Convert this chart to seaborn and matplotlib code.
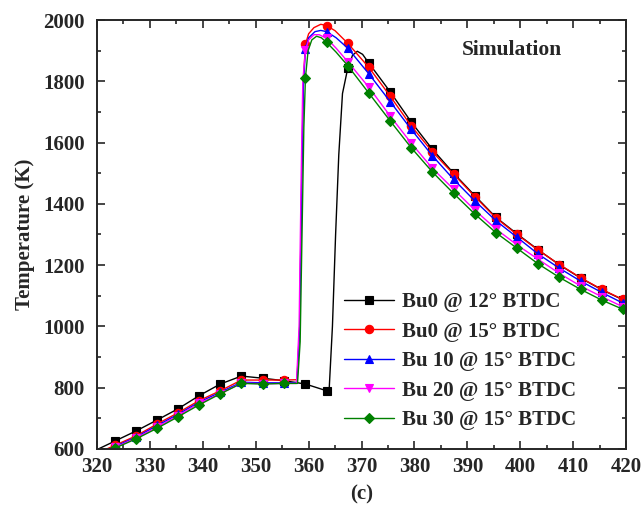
import numpy as np
import pandas as pd
import seaborn as sns
import matplotlib.pyplot as plt
from matplotlib.ticker import MultipleLocator

# Crank angle where markers are drawn (same for every run)
marker_ca = [323.4, 327.4, 331.4, 335.3, 339.3, 343.3, 347.3, 351.3, 355.3, 359.4,
             363.4, 367.4, 371.4, 375.4, 379.4, 383.4, 387.4, 391.4, 395.4, 399.4,
             403.4, 407.4, 411.4, 415.4, 419.4]

# Temperature at the marker positions
t_bu0_12 = [626, 659, 695, 731, 774, 812, 838, 831, 823, 812,
            790, 1843, 1859, 1766, 1667, 1578, 1500, 1427, 1356, 1302,
            1250, 1201, 1158, 1120, 1087]
t_bu0_15 = [612, 643, 682, 718, 758, 790, 825, 825, 825, 1921,
            1982, 1924, 1845, 1752, 1654, 1570, 1497, 1424, 1354, 1300,
            1249, 1202, 1159, 1121, 1088]
t_bu10_15 = [608, 639, 677, 713, 753, 785, 818, 816, 816, 1905,
             1962, 1908, 1824, 1734, 1643, 1557, 1480, 1410, 1345, 1291,
             1236, 1190, 1148, 1111, 1076]
t_bu20_15 = [605, 636, 672, 709, 749, 781, 815, 813, 814, 1902,
             1940, 1864, 1780, 1687, 1598, 1516, 1448, 1380, 1318, 1266,
             1219, 1173, 1132, 1097, 1064]
t_bu30_15 = [603, 633, 668, 705, 744, 780, 814, 812, 814, 1812,
             1927, 1851, 1761, 1671, 1583, 1504, 1434, 1367, 1306, 1255,
             1204, 1160, 1121, 1086, 1056]

# Extra curve points (start of the window, ignition jump, peak)
x_bu0_12 = [320.0, 363.9, 364.5, 365.1, 365.7, 366.4, 368.3, 369.2, 370.2, 420.0]
y_bu0_12 = [598, 800, 1000, 1300, 1560, 1760, 1885, 1898, 1888, 1083]
x_bu0_15 = [320.0, 357.8, 358.3, 358.7, 359.0, 360.0, 361.0, 362.3, 365.0, 420.0]
y_bu0_15 = [586, 826, 1000, 1500, 1800, 1955, 1975, 1986, 1965, 1084]
x_bu10_15 = [320.0, 357.8, 358.3, 358.7, 359.0, 360.0, 361.2, 362.3, 365.2, 420.0]
y_bu10_15 = [582, 817, 990, 1480, 1780, 1942, 1962, 1966, 1942, 1072]
x_bu20_15 = [320.0, 357.7, 358.2, 358.6, 358.9, 360.0, 361.0, 362.0, 365.2, 420.0]
y_bu20_15 = [580, 814, 1000, 1500, 1800, 1935, 1952, 1952, 1908, 1060]
x_bu30_15 = [320.0, 357.9, 358.4, 358.8, 359.1, 359.9, 360.6, 361.5, 362.4, 365.2, 420.0]
y_bu30_15 = [578, 814, 950, 1350, 1650, 1900, 1935, 1947, 1942, 1895, 1052]

labels = ["Bu0 @ 12° BTDC", "Bu0 @ 15° BTDC", "Bu 10 @ 15° BTDC",
          "Bu 20 @ 15° BTDC", "Bu 30 @ 15° BTDC"]
colors = ["black", "red", "blue", "magenta", "green"]
markers = ["s", "o", "^", "v", "D"]

marker_vals = [t_bu0_12, t_bu0_15, t_bu10_15, t_bu20_15, t_bu30_15]
extra_x = [x_bu0_12, x_bu0_15, x_bu10_15, x_bu20_15, x_bu30_15]
extra_y = [y_bu0_12, y_bu0_15, y_bu10_15, y_bu20_15, y_bu30_15]

sns.set_style("ticks")
plt.rcParams["font.family"] = ["Liberation Serif", "DejaVu Serif"]
plt.rcParams["font.weight"] = "bold"

fig = plt.figure(figsize=(6.43, 5.09), dpi=100)
ax = fig.add_axes([0.1509, 0.1179, 0.8227, 0.8428])

for lab, col, mk, tv, ex, ey in zip(labels, colors, markers, marker_vals, extra_x, extra_y):
    df = pd.DataFrame({"ca": marker_ca + ex, "T": tv + ey,
                       "is_marker": [True] * len(marker_ca) + [False] * len(ex)})
    df = df.sort_values("ca").reset_index(drop=True)
    idx = list(df.index[df["is_marker"]])
    sns.lineplot(data=df, x="ca", y="T", ax=ax, color=col, marker=mk,
                 markersize=6 if mk != "D" else 5, markeredgewidth=0.8,
                 markeredgecolor=col, linewidth=1.0, markevery=idx,
                 estimator=None, sort=False, label=lab)

ax.set_xlim(320, 420)
ax.set_ylim(600, 2000)
ax.xaxis.set_major_locator(MultipleLocator(10))
ax.xaxis.set_minor_locator(MultipleLocator(5))
ax.yaxis.set_major_locator(MultipleLocator(200))
ax.yaxis.set_minor_locator(MultipleLocator(100))
ax.tick_params(which="both", direction="in", top=True, right=True, width=1.2)
ax.tick_params(which="major", length=6, labelsize=15)
ax.tick_params(axis="x", which="major", pad=6)
ax.tick_params(axis="y", which="major", pad=9)
ax.tick_params(which="minor", length=3)
for s in ax.spines.values():
    s.set_linewidth(1.4)
for t in ax.get_xticklabels() + ax.get_yticklabels():
    t.set_fontweight("bold")

ax.set_xlabel("(c)", fontsize=15, fontweight="bold", labelpad=5)
ax.set_ylabel("Temperature (K)", fontsize=15, fontweight="bold", labelpad=6)

ax.text(0.785, 0.93, "Simulation", transform=ax.transAxes, ha="center", va="center",
        fontsize=15.5, fontweight="bold")

leg = ax.legend(loc="upper left", bbox_to_anchor=(0.44, 0.40), frameon=False,
                fontsize=15, handlelength=2.4, handletextpad=0.35, labelspacing=0.46,
                borderpad=0.2)
for t in leg.get_texts():
    t.set_fontweight("bold")

fig.savefig("out.png", dpi=100)
